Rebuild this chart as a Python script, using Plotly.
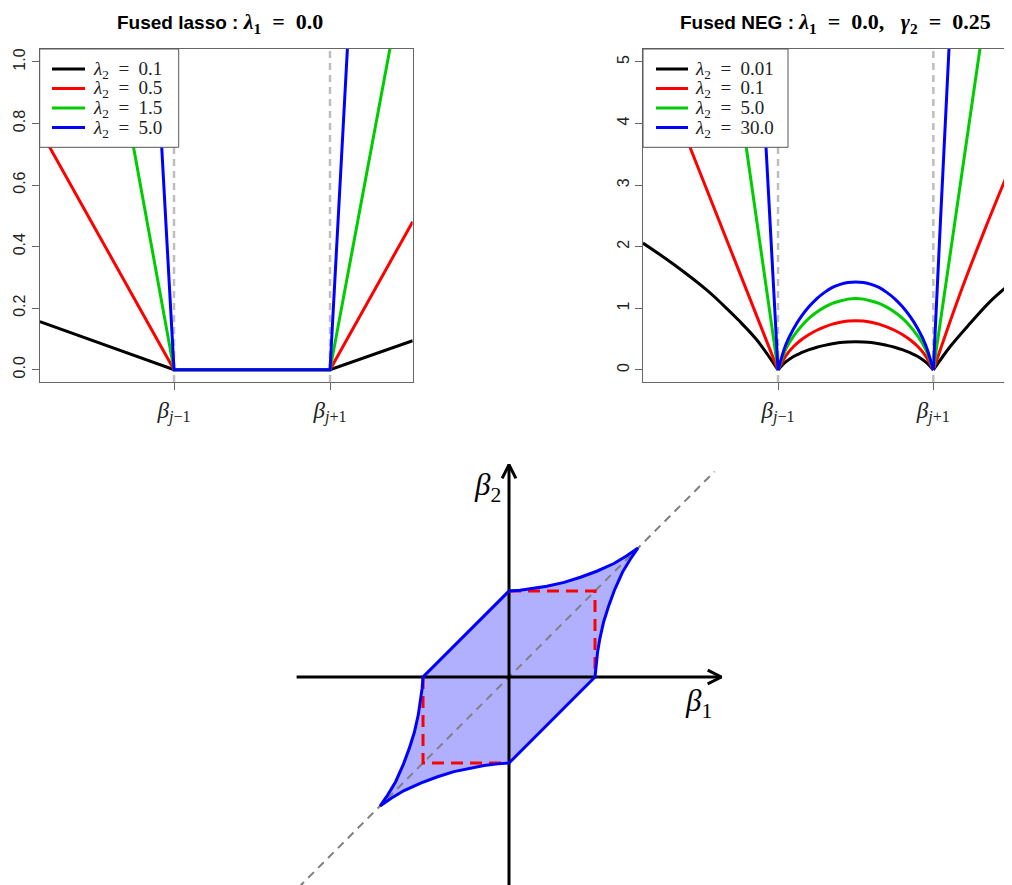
import plotly.graph_objects as go

# ---- top-left: fused lasso penalty (beta_{j-1} at -1, beta_{j+1} at +1)
lasso_names = ["0.1", "0.5", "1.5", "5.0"]
lasso_x = [[-2.72, -1, 1, 2.06],
           [-2.72, -1, 1, 2.06],
           [-1.79, -1, 1, 1.81],
           [-1.24, -1, 1, 1.235]]
lasso_y = [[0.156, 0, 0, 0.094],
           [0.78, 0, 0, 0.481],
           [1.1, 0, 0, 1.1],
           [1.1, 0, 0, 1.1]]

# ---- top-right: fused NEG penalty
neg_names = ["0.01", "0.1", "5.0", "30.0"]
neg_left_x = [[-2.74, -2.35, -1.92, -1.72, -1.51, -1.275, -1],
              [-2.66, -2.135, -1.576, -1],
              [-1.6, -1.41, -1],
              [-1.226, -1.155, -1]]
neg_left_y = [[2.06, 1.72, 1.30, 1.07, 0.81, 0.49, 0],
              [5.3, 3.62, 1.84, 0],
              [5.3, 3.62, 0],
              [5.3, 3.62, 0]]
hump_x = [-1, -0.9, -0.8, -0.7, -0.6, -0.5, -0.4, -0.3, -0.2, -0.1, 0,
          0.1, 0.2, 0.3, 0.4, 0.5, 0.6, 0.7, 0.8, 0.9, 1]
hump_y = [[0, 0.13, 0.22, 0.28, 0.33, 0.37, 0.40, 0.425, 0.445, 0.455, 0.46,
           0.455, 0.445, 0.425, 0.40, 0.37, 0.33, 0.28, 0.22, 0.13, 0],
          [0, 0.23, 0.38, 0.49, 0.575, 0.645, 0.70, 0.745, 0.775, 0.795, 0.80,
           0.795, 0.775, 0.745, 0.70, 0.645, 0.575, 0.49, 0.38, 0.23, 0],
          [0, 0.34, 0.55, 0.71, 0.84, 0.94, 1.02, 1.08, 1.12, 1.15, 1.16,
           1.15, 1.12, 1.08, 1.02, 0.94, 0.84, 0.71, 0.55, 0.34, 0],
          [0, 0.41, 0.67, 0.87, 1.03, 1.16, 1.26, 1.34, 1.39, 1.42, 1.43,
           1.42, 1.39, 1.34, 1.26, 1.16, 1.03, 0.87, 0.67, 0.41, 0]]
neg_right_x = [[1, 1.215, 1.474, 1.731, 2.02],
               [1, 1.33, 1.66, 2.02],
               [1, 1.262, 1.61],
               [1, 1.086, 1.205]]
neg_right_y = [[0, 0.378, 0.758, 1.11, 1.43],
               [0, 1.19, 2.27, 3.38],
               [0, 2.27, 5.3],
               [0, 2.27, 5.3]]

colors = ["#000000", "#FF0000", "#00CD00", "#0000FF"]

# ---- bottom: constraint region in (beta1, beta2), traced counter-clockwise from (1, 0)
region_x = [1, 1.01, 1.03, 1.055, 1.10, 1.16, 1.23, 1.32, 1.41, 1.5,
            1.37, 1.22, 1.02, 0.83, 0.64, 0.44, 0.29, 0.13, 0,
            -1,
            -1.01, -1.03, -1.055, -1.10, -1.16, -1.23, -1.32, -1.41, -1.5,
            -1.37, -1.22, -1.02, -0.83, -0.64, -0.44, -0.29, -0.13, 0,
            1]
region_y = [0, 0.13, 0.29, 0.44, 0.64, 0.83, 1.02, 1.22, 1.37, 1.5,
            1.41, 1.32, 1.23, 1.16, 1.10, 1.055, 1.03, 1.01, 1.0,
            0,
            -0.13, -0.29, -0.44, -0.64, -0.83, -1.02, -1.22, -1.37, -1.5,
            -1.41, -1.32, -1.23, -1.16, -1.10, -1.055, -1.03, -1.01, -1.0,
            0]
square_x = [[0, 1, 1], [-1, -1, 0]]
square_y = [[1, 1, 0], [0, -1, -1]]
diag = [-2.45, 2.39]
axis_h = [-2.47, 2.47]
axis_v = [-2.6, 2.47]
arrow_h_x = [2.31, 2.47, 2.31]
arrow_h_y = [0.08, 0, -0.08]
arrow_v_x = [-0.08, 0, 0.08]
arrow_v_y = [2.31, 2.47, 2.31]

# page body has an 8px margin: map reference pixels to paper fractions
W, H = 1004, 877


def px(x):
    return (x - 8) / W


def py(y):
    return 1 - (y - 8) / H


fig = go.Figure()

for i in range(4):
    fig.add_trace(go.Scatter(
        x=lasso_x[i], y=lasso_y[i], mode="lines", xaxis="x", yaxis="y",
        line=dict(color=colors[i], width=3), showlegend=False))

for i in range(4):
    for xs, ys in [(neg_left_x[i], neg_left_y[i]),
                   (hump_x, hump_y[i]),
                   (neg_right_x[i], neg_right_y[i])]:
        fig.add_trace(go.Scatter(
            x=xs, y=ys, mode="lines", xaxis="x2", yaxis="y2",
            line=dict(color=colors[i], width=3, shape="spline"), showlegend=False))

# bottom diagram
fig.add_trace(go.Scatter(x=region_x, y=region_y, mode="lines", fill="toself",
                         fillcolor="#B0B0FF", line=dict(width=0),
                         xaxis="x3", yaxis="y3", showlegend=False, hoverinfo="skip"))
fig.add_trace(go.Scatter(x=diag, y=diag, mode="lines", xaxis="x3", yaxis="y3",
                         line=dict(color="#808080", width=2, dash="8px,6px"),
                         showlegend=False))
fig.add_trace(go.Scatter(x=axis_h, y=[0, 0], mode="lines", xaxis="x3", yaxis="y3",
                         line=dict(color="black", width=3), showlegend=False))
fig.add_trace(go.Scatter(x=[0, 0], y=axis_v, mode="lines", xaxis="x3", yaxis="y3",
                         line=dict(color="black", width=3), showlegend=False))
fig.add_trace(go.Scatter(x=arrow_h_x, y=arrow_h_y, mode="lines", xaxis="x3", yaxis="y3",
                         line=dict(color="black", width=3), showlegend=False))
fig.add_trace(go.Scatter(x=arrow_v_x, y=arrow_v_y, mode="lines", xaxis="x3", yaxis="y3",
                         line=dict(color="black", width=3), showlegend=False))
for k in range(2):
    fig.add_trace(go.Scatter(x=square_x[k], y=square_y[k], mode="lines",
                             xaxis="x3", yaxis="y3",
                             line=dict(color="#FF0000", width=3, dash="12px,7px"),
                             showlegend=False))
fig.add_trace(go.Scatter(x=region_x, y=region_y, mode="lines", xaxis="x3", yaxis="y3",
                         line=dict(color="#0000FF", width=3), showlegend=False))

# dashed reference lines at beta_{j-1}, beta_{j+1}
for xr, yr in [("x", "y domain"), ("x2", "y2 domain")]:
    for xv in [-1, 1]:
        fig.add_shape(type="line", xref=xr, yref=yr, x0=xv, x1=xv, y0=0, y1=1,
                      line=dict(color="#BEBEBE", width=2.5, dash="7px,5px"), layer="below")

serif = "Liberation Serif"
sans = "Liberation Sans, Arial"
eq = "\u2002=\u2002"

# hand-drawn legend boxes (R style)
annotations = []
legend_rows = [69, 88.5, 108, 127.5]
for x0, x1, lx0, lx1, tx, names in [(39.7, 178.7, 52, 85, 91, lasso_names),
                                    (643, 788, 656, 688, 693, neg_names)]:
    fig.add_shape(type="rect", xref="paper", yref="paper",
                  x0=px(x0), x1=px(x1), y0=py(147.3), y1=py(49),
                  fillcolor="white", line=dict(color="#555", width=1), layer="above")
    for i in range(4):
        fig.add_shape(type="line", xref="paper", yref="paper",
                      x0=px(lx0), x1=px(lx1), y0=py(legend_rows[i]), y1=py(legend_rows[i]),
                      line=dict(color=colors[i], width=3), layer="above")
        annotations.append(dict(xref="paper", yref="paper", x=px(tx), y=py(legend_rows[i] + 1),
                                xanchor="left", yanchor="middle", showarrow=False,
                                text="<i>λ</i><sub>2</sub>" + eq + names[i],
                                font=dict(family=serif, size=19, color="#222")))

annotations += [
    dict(xref="paper", yref="paper", x=px(220), y=py(23), xanchor="center", yanchor="middle",
         showarrow=False,
         text="<b>Fused lasso :</b> <span style='font-family:Liberation Serif;font-size:22px'>"
              "<b><i>λ</i><sub>1</sub>" + eq + "0.0</b></span>",
         font=dict(family=sans, size=19, color="black")),
    dict(xref="paper", yref="paper", x=px(835), y=py(23), xanchor="center", yanchor="middle",
         showarrow=False,
         text="<b>Fused NEG :</b> <span style='font-family:Liberation Serif;font-size:22px'>"
              "<b><i>λ</i><sub>1</sub>" + eq + "0.0,\u2002 <i>γ</i><sub>2</sub>" + eq + "0.25</b></span>",
         font=dict(family=sans, size=19, color="black")),
    dict(xref="x3", yref="y3", x=-0.256, y=2.21, showarrow=False,
         text="<i>β</i><sub>2</sub>", font=dict(family=serif, size=31, color="black")),
    dict(xref="x3", yref="y3", x=2.20, y=-0.30, showarrow=False,
         text="<i>β</i><sub>1</sub>", font=dict(family=serif, size=31, color="black")),
]

beta_ticks = ["<i>β</i><sub><i>j</i>−1</sub>", "<i>β</i><sub><i>j</i>+1</sub>"]
frame = dict(showline=True, linecolor="#666", linewidth=1, showgrid=False, zeroline=False,
             ticks="outside", ticklen=7, tickcolor="#666")

fig.update_layout(
    width=W, height=H,
    margin=dict(l=0, r=0, t=0, b=0),
    paper_bgcolor="white", plot_bgcolor="white",
    xaxis=dict(frame, domain=[px(39.7), px(412.7)], range=[-2.722, 2.06], mirror=True,
               tickvals=[-1, 1], ticktext=beta_ticks,
               tickfont=dict(family=serif, size=23, color="#222"), anchor="y"),
    yaxis=dict(frame, domain=[py(382), py(49)], range=[-0.04, 1.042], mirror=True,
               tickvals=[0, 0.2, 0.4, 0.6, 0.8, 1.0],
               ticktext=["0.0", "0.2", "0.4", "0.6", "0.8", "1.0"], tickangle=-90,
               tickfont=dict(family=sans, size=16, color="#222"), anchor="x"),
    xaxis2=dict(frame, domain=[px(643), 1.0], range=[-2.739, 2.013], mirror=True,
                tickvals=[-1, 1], ticktext=beta_ticks,
                tickfont=dict(family=serif, size=23, color="#222"), anchor="y2"),
    yaxis2=dict(frame, domain=[py(382), py(49)], range=[-0.195, 5.21], mirror=False,
                tickvals=[0, 1, 2, 3, 4, 5], tickangle=-90,
                tickfont=dict(family=sans, size=16, color="#222"), anchor="x2"),
    xaxis3=dict(domain=[0, 1], range=[-5.826, 5.849], visible=False, anchor="y3"),
    yaxis3=dict(domain=[0, py(445)], range=[-2.4186, 2.698], visible=False, anchor="x3"),
    annotations=annotations,
)

fig.write_html("out.html")
